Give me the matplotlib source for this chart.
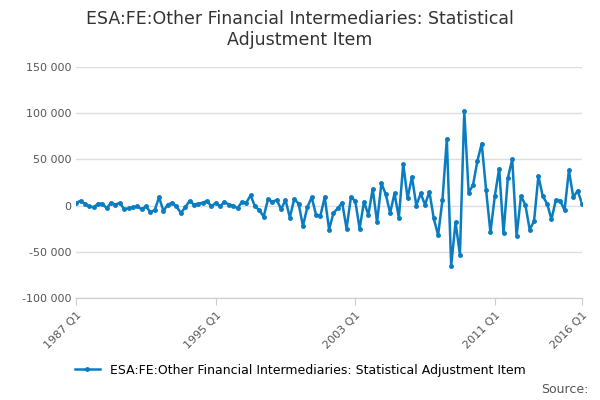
import numpy as np
import matplotlib.pyplot as plt

# quarterly values, 1987 Q1 .. 2016 Q1
values = [3, 5, 2, -1, -2, 2, 2, -3, 3, 1, 3, -4, -3, -2, -1, -4,
          -1, -7, -5, 9, -6, 1, 3, -1, -8, -2, 5, 1, 2, 3, 5, -1,
          3, -1, 4, 1, 0, -3, 4, 3, 11, -1, -5, -12, 7, 4, 6, -4,
          6, -13, 7, 2, -22, -2, 9, -10, -11, 9, -26, -8, -3, 3, -25, 9,
          5, -25, 4, -10, 18, -18, 24, 12, -8, 13, -13, 45, 8, 31, 0, 13,
          1, 15, -14, -32, 6, 72, -65, -18, -53, 102, 14, 22, 48, 67, 17, -29,
          10, 40, -30, 30, 50, -33, 10, 1, -26, -17, 32, 10, 2, -15, 6, 5,
          -5, 38, 9, 16, 2]
values = np.array(values) * 1000
tick_pos = [0, 32, 64, 96, 116]
tick_labels = ['1987 Q1', '1995 Q1', '2003 Q1', '2011 Q1', '2016 Q1']
series_name = 'ESA:FE:Other Financial Intermediaries: Statistical Adjustment Item'

fig = plt.figure(figsize=(6, 4), dpi=100)
ax = fig.add_axes([0.127, 0.255, 0.843, 0.578])
x = np.arange(len(values))
ax.plot(x, values, color='#0a7cc1', linewidth=1.8, marker='o', markersize=2.5, label=series_name)

ax.set_xlim(0, 116)
ax.set_ylim(-100000, 150000)
ax.set_yticks([-100000, -50000, 0, 50000, 100000, 150000])
ax.set_yticklabels(['-100 000', '-50 000', '0', '50 000', '100 000', '150 000'], color='#555555', fontsize=8)
ax.set_xticks(tick_pos)
ax.set_xticklabels(tick_labels, rotation=45, ha='right', rotation_mode='anchor', color='#555555', fontsize=8)
ax.grid(axis='y', color='#dddddd', linewidth=1)
for s in ['top', 'right', 'left']:
    ax.spines[s].set_visible(False)
ax.spines['bottom'].set_color('#cccccc')
ax.tick_params(axis='y', length=0)
ax.tick_params(axis='x', color='#cccccc', length=5)

fig.suptitle('ESA:FE:Other Financial Intermediaries: Statistical\nAdjustment Item', fontsize=12.5, color='#333333', y=0.975)
fig.legend(loc='lower center', bbox_to_anchor=(0.5, 0.03), frameon=False, fontsize=9, handlelength=2)
fig.text(0.98, 0.01, 'Source:', ha='right', va='bottom', fontsize=9, color='#555555')
fig.savefig('out.png', dpi=100)
